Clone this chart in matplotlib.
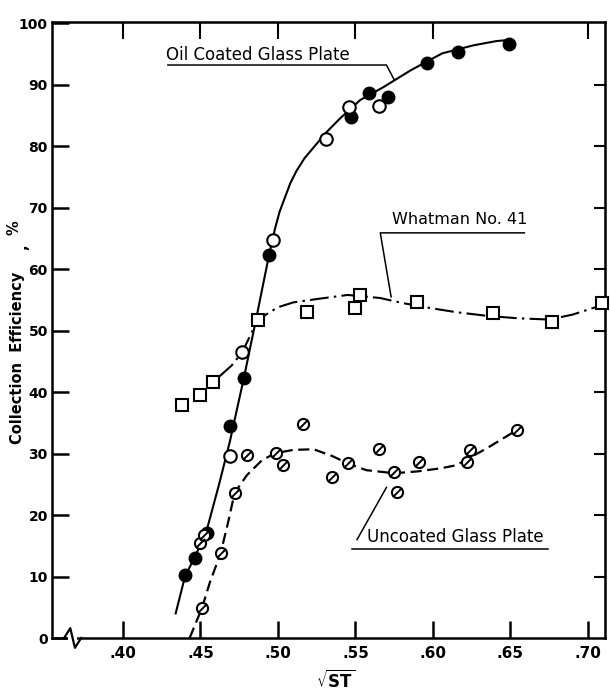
import matplotlib
matplotlib.use("Agg")
import matplotlib.pyplot as plt
from matplotlib.path import Path

# ── data ──────────────────────────────────────────────────
oil_filled_x = [0.440, 0.4465, 0.454, 0.469, 0.478, 0.494, 0.547, 0.559, 0.571, 0.596, 0.616, 0.649]
oil_filled_y = [10.2, 13.0, 17.1, 34.5, 42.3, 62.3, 84.8, 88.6, 88.0, 93.5, 95.3, 96.7]
oil_open_x = [0.469, 0.477, 0.497, 0.531, 0.546, 0.565]
oil_open_y = [29.6, 46.5, 64.7, 81.1, 86.3, 86.5]
oil_curve_x = [0.434, 0.440, 0.447, 0.454, 0.462, 0.469, 0.478, 0.486, 0.494, 0.498, 0.501,
               0.505, 0.508, 0.512, 0.517, 0.523, 0.531, 0.540, 0.553, 0.568, 0.586,
               0.606, 0.626, 0.641, 0.650]
oil_curve_y = [4, 10, 13.5, 17.5, 25, 32, 42.3, 52, 62, 66.5, 69.3,
               72, 74, 76, 78, 79.8, 82.2, 84.5, 87.5, 89.6, 92.4,
               95.1, 96.4, 97.1, 97.3]

whatman_x = [0.438, 0.450, 0.458, 0.487, 0.519, 0.550, 0.553, 0.590, 0.639, 0.677, 0.709]
whatman_y = [37.9, 39.5, 41.6, 51.8, 53.0, 53.7, 55.8, 54.6, 52.8, 51.4, 54.5]
whatman_curve_x = [0.462, 0.470, 0.477, 0.487, 0.500, 0.510, 0.527, 0.545, 0.566, 0.580,
                   0.600, 0.615, 0.635, 0.655, 0.675, 0.690, 0.711]
whatman_curve_y = [42.5, 44.3, 46.5, 51.8, 53.8, 54.6, 55.2, 55.8, 55.3, 54.5,
                   53.6, 53.0, 52.4, 52.0, 51.8, 52.6, 54.3]

uncoated_x = [0.450, 0.452, 0.451, 0.463, 0.472, 0.480, 0.499, 0.503, 0.516, 0.535,
              0.545, 0.565, 0.575, 0.577, 0.591, 0.622, 0.624, 0.654]
uncoated_y = [15.4, 16.8, 4.9, 13.8, 23.6, 29.8, 30.1, 28.1, 34.8, 26.2,
              28.4, 30.7, 27.0, 23.7, 28.6, 28.6, 30.6, 33.8]
uncoated_curve_x = [0.443, 0.451, 0.456, 0.463, 0.468, 0.472, 0.480, 0.490, 0.499, 0.510,
                    0.523, 0.535, 0.545, 0.557, 0.575, 0.590, 0.605, 0.615, 0.635, 0.654]
uncoated_curve_y = [0, 4.9, 9, 13.8, 19, 23.6, 26.5, 29, 30.1, 30.6,
                    30.7, 29.6, 28.4, 27.3, 26.8, 27.1, 27.6, 28.1, 30.9, 33.8]

x_ticks = [0.40, 0.45, 0.50, 0.55, 0.60, 0.65, 0.70]
x_labels = [".40", ".45", ".50", ".55", ".60", ".65", ".70"]
top_ticks = [0.40, 0.45, 0.50, 0.55, 0.60, 0.70]
y_ticks = [0, 10, 20, 30, 40, 50, 60, 70, 80, 90, 100]
right_ticks = [10, 20, 30, 40, 50, 60, 70, 80, 90]

# ── figure ────────────────────────────────────────────────
plt.rcParams["font.family"] = ["DejaVu Sans"]
fig = plt.figure(figsize=(6.1, 6.91), dpi=100, facecolor="white")
ax = fig.add_axes([52/610, 53/691, 553/610, 616/691])
ax.set_xlim(0.3542, 0.711)
ax.set_ylim(0, 100.2)

for s in ax.spines.values():
    s.set_linewidth(1.8)

ax.set_xticks(x_ticks)
ax.set_xticklabels(x_labels, fontsize=11, fontweight="bold")
ax.set_yticks(y_ticks)
ax.set_yticklabels([str(v) for v in y_ticks], fontsize=10, fontweight="bold")
ax.tick_params(axis="x", direction="in", length=12, width=1.8, pad=6)
ax.tick_params(axis="y", direction="in", length=12, width=1.8, pad=3)

top = ax.secondary_xaxis("top")
top.set_xticks(top_ticks)
top.tick_params(direction="in", length=12, width=1.5, labeltop=False)
right = ax.secondary_yaxis("right")
right.set_yticks(right_ticks)
right.tick_params(direction="in", length=8, width=1.5, labelright=False)

# axis break on the x axis
ax.plot([0.362, 0.366, 0.369, 0.373], [0, 1.6, -1.6, 0], color="black", lw=1.6,
        clip_on=False, zorder=5)
ax.plot([0.366, 0.369], [0, 0], color="white", lw=3, clip_on=False, zorder=4)

# curves
ax.plot(oil_curve_x, oil_curve_y, color="black", lw=1.5, zorder=2)
ax.plot(whatman_curve_x, whatman_curve_y, color="black", lw=1.5,
        linestyle=(0, (9, 2.5, 1.2, 2.5)), zorder=2)
ax.plot(uncoated_curve_x, uncoated_curve_y, color="black", lw=1.6,
        linestyle=(0, (5, 2.5)), zorder=2)

# markers
ax.plot(oil_filled_x, oil_filled_y, "o", ms=9, color="black", zorder=3)
ax.plot(oil_open_x, oil_open_y, "o", ms=9, mfc="white", mec="black", mew=1.5, zorder=3)
ax.plot(whatman_x, whatman_y, "s", ms=9, mfc="white", mec="black", mew=1.5,
        zorder=3, clip_on=False)
slash = Path([(-1, -1), (1, 1)], [Path.MOVETO, Path.LINETO])
ax.plot(uncoated_x, uncoated_y, "o", ms=8, mfc="white", mec="black", mew=1.5, zorder=3)
ax.plot(uncoated_x, uncoated_y, linestyle="none", marker=slash, ms=6.5,
        mec="black", mew=1.4, zorder=4)

# labels with leader lines
ax.text(0.428, 94.8, "Oil Coated Glass Plate", fontsize=12, va="center", ha="left")
ax.plot([0.429, 0.570, 0.575], [93.2, 93.2, 90.8], color="black", lw=1.1)
ax.text(0.5735, 68.0, "Whatman No. 41", fontsize=11.5, va="center", ha="left")
ax.plot([0.659, 0.566, 0.573], [65.9, 65.9, 55.5], color="black", lw=1.1)
ax.text(0.5575, 16.4, "Uncoated Glass Plate", fontsize=12, va="center", ha="left")
ax.plot([0.548, 0.674], [14.5, 14.5], color="black", lw=1.1)
ax.plot([0.551, 0.570], [16.0, 24.5], color="black", lw=1.1)

ax.text(0.537, -7.0, r"$\sqrt{\mathbf{ST}}$", fontsize=12, ha="center", va="center")
ax.text(0.3318, 45.5, "Collection  Efficiency", rotation=90, fontsize=10.5,
        fontweight="bold", ha="center", va="center", clip_on=False)
ax.text(0.3355, 63.6, ",", rotation=90, fontsize=10.5, fontweight="bold",
        ha="center", va="center", clip_on=False)
ax.text(0.3300, 66.8, "%", rotation=90, fontsize=10.5, fontweight="bold",
        ha="center", va="center", clip_on=False)

fig.savefig("out.png", dpi=100, facecolor="white")
plt.close(fig)
